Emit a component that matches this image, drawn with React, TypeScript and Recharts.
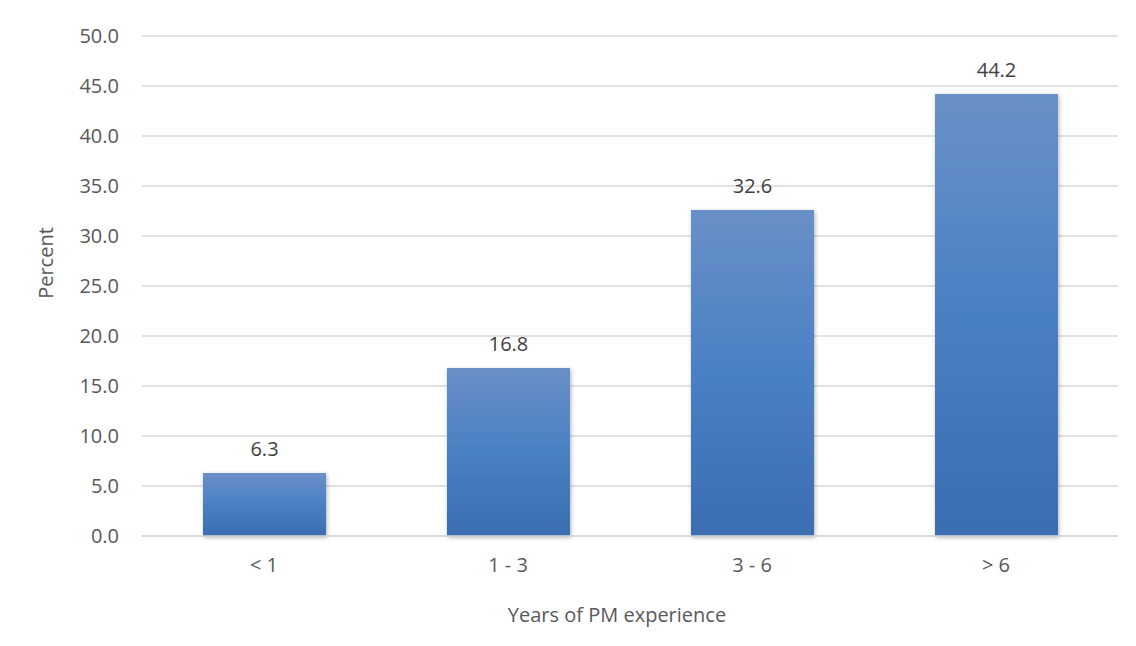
import { BarChart, Bar, XAxis, YAxis, CartesianGrid, LabelList } from 'recharts'

const CATEGORIAS = ['< 1', '1 - 3', '3 - 6', '> 6']
const PERCENTUAIS = [6.3, 16.8, 32.6, 44.2]
const Y_TICKS = [0, 5, 10, 15, 20, 25, 30, 35, 40, 45, 50]

const data = CATEGORIAS.map((c, i) => ({ cat: c, valor: PERCENTUAIS[i] }))

const FONT = '"Open Sans", "Noto Sans", sans-serif'
const TICK_STYLE = { fontSize: 20, fill: '#595959', fontFamily: FONT } as const
const LABEL_STYLE = { fontSize: 20, fill: '#404040', fontFamily: FONT } as const

const PercentLabel = () => (
  <text
    x={37}
    y={255}
    transform="rotate(-90 37 255)"
    textAnchor="middle"
    dominantBaseline="central"
    fontSize={20}
    fill="#595959"
    fontFamily={FONT}
  >
    Percent
  </text>
)

const XTitle = () => (
  <text x={609} y={606} textAnchor="middle" dominantBaseline="central" fontSize={20} fill="#595959" fontFamily={FONT}>
    Years of PM experience
  </text>
)

export default function App() {
  return (
    <div
      style={{
        width: 1129,
        height: 639,
        marginLeft: -1,
        marginTop: -1,
        borderLeft: '1px solid #d0d0d0',
        borderTop: '1px solid #d0d0d0',
        background: '#fff',
      }}
    >
      <BarChart width={1128} height={638} data={data} margin={{ top: 28, right: 18, left: 0, bottom: 0 }}>
        <defs>
          <linearGradient id="gradBar" x1="0" y1="0" x2="0" y2="1">
            <stop offset="0%" stopColor="#6990c8" />
            <stop offset="50%" stopColor="#4a80c4" />
            <stop offset="100%" stopColor="#3a6db1" />
          </linearGradient>
          <filter id="sombra" x="-10%" y="-10%" width="125%" height="125%">
            <feDropShadow dx="1" dy="1.5" stdDeviation="2" floodColor="#000" floodOpacity="0.3" />
          </filter>
        </defs>
        <CartesianGrid vertical={false} stroke="#d9d9d9" strokeWidth={1.5} />
        <XAxis
          dataKey="cat"
          height={110}
          axisLine={{ stroke: '#d9d9d9', strokeWidth: 1.5 }}
          tickLine={false}
          tickSize={0}
          tickMargin={22}
          tick={TICK_STYLE}
          label={<XTitle />}
        />
        <YAxis
          width={134}
          domain={[0, 50]}
          ticks={Y_TICKS}
          tickFormatter={(v: number) => v.toFixed(1)}
          axisLine={false}
          tickLine={false}
          tickSize={0}
          tickMargin={23}
          tick={TICK_STYLE}
          label={<PercentLabel />}
        />
        <Bar dataKey="valor" fill="url(#gradBar)" barSize={123} filter="url(#sombra)" isAnimationActive={false}>
          <LabelList
            dataKey="valor"
            position="top"
            offset={17}
            formatter={(v: number) => v.toFixed(1)}
            style={LABEL_STYLE}
          />
        </Bar>
      </BarChart>
    </div>
  )
}
